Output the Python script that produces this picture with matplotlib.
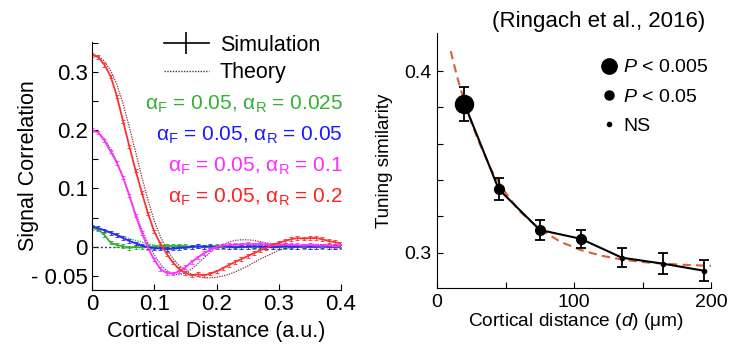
import numpy as np
import matplotlib
matplotlib.use("Agg")
import matplotlib.pyplot as plt
from matplotlib.lines import Line2D

plt.rcParams['font.family'] = ['Liberation Sans', 'DejaVu Sans']
plt.rcParams['mathtext.fontset'] = 'custom'
plt.rcParams['mathtext.rm'] = 'Liberation Sans'
plt.rcParams['mathtext.it'] = 'Liberation Sans:italic'

# ---------- left panel : signal correlation vs cortical distance ----------
x_sim = np.round(np.arange(0, 0.401, 0.01), 2)

sim_red = [0.329, 0.325, 0.312, 0.292, 0.258, 0.215, 0.172, 0.131, 0.093, 0.057,
           0.026, 0.005, -0.012, -0.027, -0.038, -0.045, -0.049, -0.047, -0.049, -0.046,
           -0.042, -0.037, -0.031, -0.026, -0.021, -0.016, -0.011, -0.006, -0.002, 0.003,
           0.007, 0.010, 0.013, 0.015, 0.014, 0.015, 0.015, 0.013, 0.010, 0.008, 0.006]
sim_mag = [0.200, 0.196, 0.182, 0.163, 0.144, 0.119, 0.088, 0.054, 0.024, -0.002,
           -0.022, -0.038, -0.045, -0.046, -0.042, -0.035, -0.026, -0.018, -0.011, -0.005,
           0.000, 0.002, 0.003, 0.004, 0.004, 0.005, 0.004, 0.005, 0.004, 0.004,
           0.003, 0.004, 0.003, 0.003, 0.002, 0.003, 0.002, 0.002, 0.002, 0.001, 0.002]
sim_blue = [0.035, 0.032, 0.028, 0.024, 0.020, 0.015, 0.010, 0.006, 0.002, -0.001,
            -0.002, -0.003, -0.004, -0.003, -0.002, -0.001, 0.000, 0.001, 0.000, 0.001,
            0.000, 0.001, 0.000, -0.001, 0.000, 0.000, 0.001, 0.000, 0.000, -0.001,
            0.000, 0.001, 0.000, 0.000, 0.001, 0.000, 0.000, 0.001, 0.000, 0.000, 0.001]
sim_green = [0.032, 0.030, 0.020, 0.007, 0.003, 0.001, -0.002, 0.000, -0.001, 0.000,
             0.000, 0.001, 0.002, 0.001, 0.002, 0.001, 0.000, 0.001, 0.000, 0.000,
             0.001, 0.000, 0.000, 0.001, 0.000, 0.000, 0.000, 0.001, 0.000, 0.000,
             0.000, 0.000, 0.001, 0.000, 0.000, 0.000, 0.000, 0.000, 0.000, 0.000, 0.000]
sim_err = 0.003

th_red = [0.330, 0.327, 0.318, 0.302, 0.278, 0.245, 0.205, 0.163, 0.120, 0.080,
          0.045, 0.017, -0.004, -0.020, -0.032, -0.041, -0.047, -0.051, -0.053, -0.053,
          -0.052, -0.050, -0.047, -0.043, -0.038, -0.033, -0.027, -0.021, -0.016, -0.011,
          -0.006, -0.003, 0.000, 0.002, 0.003, 0.004, 0.004, 0.004, 0.004, 0.003, 0.003]
th_mag = [0.200, 0.196, 0.185, 0.168, 0.145, 0.118, 0.088, 0.058, 0.030, 0.006,
          -0.014, -0.030, -0.041, -0.047, -0.048, -0.045, -0.038, -0.029, -0.019, -0.009,
          -0.001, 0.004, 0.008, 0.011, 0.012, 0.012, 0.011, 0.009, 0.007, 0.004,
          0.002, 0.001, 0.001, 0.000, 0.000, 0.000, 0.000, 0.000, 0.000, 0.000, 0.000]
th_blue = [0.035, 0.032, 0.029, 0.025, 0.020, 0.015, 0.011, 0.007, 0.003, 0.000,
           -0.002, -0.003, -0.004, -0.004, -0.003, -0.002, -0.001, 0.000, 0.000, 0.000,
           0.000, 0.000, 0.000, 0.000, 0.000, 0.000, 0.000, 0.000, 0.000, 0.000,
           0.000, 0.000, 0.000, 0.000, 0.000, 0.000, 0.000, 0.000, 0.000, 0.000, 0.000]
th_green = [0.034, 0.031, 0.028, 0.025, 0.021, 0.018, 0.014, 0.011, 0.008, 0.005,
            0.003, 0.001, 0.000, 0.000, 0.000, 0.000, 0.000, 0.000, 0.000, 0.000,
            0.000, 0.000, 0.000, 0.000, 0.000, 0.000, 0.000, 0.000, 0.000, 0.000,
            0.000, 0.000, 0.000, 0.000, 0.000, 0.000, 0.000, 0.000, 0.000, 0.000, 0.000]

labels_alpha = [r'$\mathrm{\alpha_F}$ = 0.05, $\mathrm{\alpha_R}$ = 0.025',
                r'$\mathrm{\alpha_F}$ = 0.05, $\mathrm{\alpha_R}$ = 0.05',
                r'$\mathrm{\alpha_F}$ = 0.05, $\mathrm{\alpha_R}$ = 0.1',
                r'$\mathrm{\alpha_F}$ = 0.05, $\mathrm{\alpha_R}$ = 0.2']
text_colors = ['#33b033', '#1a1aff', '#ff2aff', '#ff2020']

# ---------- right panel : Ringach et al. 2016 ----------
d_um = [20, 45, 75, 105, 135, 165, 195]
tuning = [0.382, 0.335, 0.3125, 0.3076, 0.2972, 0.2939, 0.2900]
tuning_err = [0.0095, 0.006, 0.0055, 0.005, 0.0053, 0.0057, 0.0058]
signif = ['p005', 'p05', 'p05', 'p05', 'ns', 'ns', 'ns']
fit_d = [10, 15, 20, 25, 30, 40, 50, 60, 75, 90, 105, 120, 135, 150, 165, 180, 200]
fit_y = [0.411, 0.396, 0.383, 0.372, 0.362, 0.345, 0.333, 0.323, 0.313, 0.306,
         0.3014, 0.2983, 0.2962, 0.2948, 0.2939, 0.2933, 0.2927]

fig = plt.figure(figsize=(7.44, 3.47), dpi=100)
W, H = 744, 347
ax1 = fig.add_axes([92 / W, 1 - 290 / H, 249 / W, 248 / H])
ax2 = fig.add_axes([437 / W, 1 - 288 / H, 274 / W, 255 / H])

# left
ax1.plot(x_sim, np.zeros(len(x_sim)), ls=(0, (1.5, 1.5)), color='#404040', lw=1)
th_cols = ['#40a040', '#3030b0', '#803080', '#80303a']
for th, c in zip([th_green, th_blue, th_mag, th_red], th_cols):
    ax1.plot(x_sim, th, ls=(0, (1, 1)), color=c, lw=0.9)
sim_cols = ['#30b030', '#2828ff', '#ff30ff', '#ff3030']
for sim, c in zip([sim_green, sim_blue, sim_mag, sim_red], sim_cols):
    ax1.errorbar(x_sim, sim, yerr=sim_err, color=c, lw=1.3, elinewidth=0.6,
                 capsize=1.5, capthick=0.6)

ax1.set_xlim(0, 0.4)
ax1.set_ylim(-0.074, 0.351)
ax1.set_xticks([0, 0.1, 0.2, 0.3, 0.4])
ax1.set_xticklabels(['0', '0.1', '0.2', '0.3', '0.4'])
ax1.set_yticks([-0.05, 0, 0.05, 0.1, 0.15, 0.2, 0.25, 0.3, 0.35])
ax1.set_yticklabels(['- 0.05', '0', '', '0.1', '', '0.2', '', '0.3', ''])
ax1.tick_params(direction='in', length=4, labelsize=16, pad=3)
for s in ['top', 'right']:
    ax1.spines[s].set_visible(False)
ax1.set_xlabel('Cortical Distance (a.u.)', fontsize=15.5, va='center')
ax1.xaxis.set_label_coords(0.5, -0.169)
ax1.set_ylabel('Signal Correlation', fontsize=15.5, va='center')
ax1.yaxis.set_label_coords(-0.255, 0.5)

eb = ax1.errorbar([], [], yerr=[], color='black', lw=1.2, capsize=4)
th_h = Line2D([], [], ls=(0, (1, 1)), color='#404040', lw=1)
ax1.legend([eb, th_h], ['Simulation', 'Theory'], loc='upper left',
           bbox_to_anchor=(153 / W, 1 - 24 / H), bbox_transform=fig.transFigure,
           frameon=False, fontsize=15.5, handlelength=2.1, handletextpad=0.5,
           borderpad=0, labelspacing=0.3)

for i, (lab, c) in enumerate(zip(labels_alpha, text_colors)):
    ax1.text(1.008, 0.726 - i * 0.124, lab, color=c, fontsize=15,
             ha='right', va='baseline', transform=ax1.transAxes)

# right
ax2.plot(fit_d, fit_y, ls=(0, (4, 2.5)), color='#d8603a', lw=1.5, zorder=2)
ax2.errorbar(d_um, tuning, yerr=tuning_err, color='black', lw=1.5,
             capsize=3.5, capthick=1.3, elinewidth=1.3, zorder=3)
msize = {'p005': 13, 'p05': 7, 'ns': 3}
for xv, yv, s in zip(d_um, tuning, signif):
    ax2.plot(xv, yv, 'o', color='black', ms=msize[s], zorder=4)

ax2.set_xlim(0, 200)
ax2.set_ylim(0.2805, 0.421)
ax2.set_xticks([0, 50, 100, 150, 200])
ax2.set_xticklabels(['0', '', '100', '', '200'])
ax2.set_yticks([0.3, 0.32, 0.34, 0.36, 0.38, 0.4])
ax2.set_yticklabels(['0.3', '', '', '', '', '0.4'])
ax2.tick_params(direction='in', length=4, labelsize=14, pad=4)
for s in ['top', 'right']:
    ax2.spines[s].set_visible(False)
ax2.set_xlabel('Cortical distance ($d$) (\u03bcm)', fontsize=13.8, va='center')
ax2.xaxis.set_label_coords(0.509, -0.132)
ax2.set_ylabel('Tuning similarity', fontsize=13.5, va='center')
ax2.yaxis.set_label_coords(-0.19, 0.5)

leg_h = [Line2D([], [], marker='o', ls='none', color='black', ms=m) for m in (11, 6.5, 3)]
ax2.legend(leg_h, ['$P$ < 0.005', '$P$ < 0.05', 'NS'], loc='upper left',
           bbox_to_anchor=(592 / W, 1 - 49 / H), bbox_transform=fig.transFigure,
           frameon=False, fontsize=14, handlelength=0.75, handletextpad=0.35,
           borderpad=0, labelspacing=0.6)

fig.text(599 / W, 1 - 22 / H, '(Ringach et al., 2016)', fontsize=16,
         ha='center', va='center')

fig.savefig('out.png', dpi=100)
